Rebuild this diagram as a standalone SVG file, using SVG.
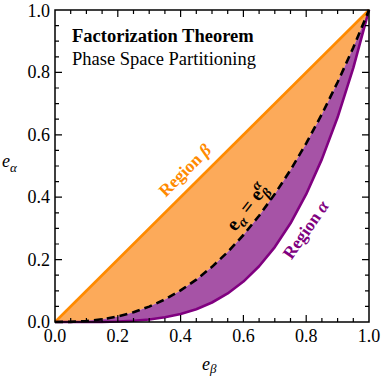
<svg xmlns="http://www.w3.org/2000/svg" width="382" height="379" viewBox="0 0 382 379" font-family="'Liberation Serif', 'Times New Roman', Tinos, 'DejaVu Serif', serif">
<style>
.lbl{font-size:18px;fill:#000}
.ax{font-size:18px;font-style:italic;fill:#000}
.title{font-size:18.5px;fill:#000}
.reg{font-size:17.5px;font-weight:bold}
.tick{stroke:#000;stroke-width:1.2;fill:none}
</style>
<rect width="382" height="379" fill="#fff"/>
<g id="region-beta-fill">
<path d="M55,322 L369,10 L353.3,47.55 L337.6,82.25 L321.9,114.17 L306.2,143.4 L290.5,170.01 L274.8,194.09 L259.1,215.72 L243.4,235 L227.7,252.01 L212,266.84 L196.3,279.62 L180.6,290.43 L164.9,299.39 L149.2,306.62 L133.5,312.25 L117.8,316.42 L102.1,319.28 L86.4,321.01 L70.7,321.83 Z" fill="#FCAA5A"/>
</g>
<g id="region-alpha-fill">
<path d="M55,322 L70.7,321.83 L86.4,321.01 L102.1,319.28 L117.8,316.42 L133.5,312.25 L149.2,306.62 L164.9,299.39 L180.6,290.43 L196.3,279.62 L212,266.84 L227.7,252.01 L243.4,235 L259.1,215.72 L274.8,194.09 L290.5,170.01 L306.2,143.4 L321.9,114.17 L337.6,82.25 L353.3,47.55 L369,10 L353.3,67.87 L337.6,117.3 L321.9,159.13 L306.2,194.2 L290.5,223.28 L274.8,247.09 L259.1,266.3 L243.4,281.56 L227.7,293.45 L212,302.5 L196.3,309.2 L180.6,314.01 L164.9,317.32 L149.2,319.47 L133.5,320.78 L117.8,321.5 L102.1,321.84 L86.4,321.97 Z" fill="#A653A6"/>
</g>
<g id="connectors" fill="none" stroke-linejoin="round">
<path id="diag" d="M55,322 L369,10" stroke="#FF8A00" stroke-width="2.6"/>
<path id="alpha-bound" d="M55,322 L86.4,321.97 L102.1,321.84 L117.8,321.5 L133.5,320.78 L149.2,319.47 L164.9,317.32 L180.6,314.01 L196.3,309.2 L212,302.5 L227.7,293.45 L243.4,281.56 L259.1,266.3 L274.8,247.09 L290.5,223.28 L306.2,194.2 L321.9,159.13 L337.6,117.3 L353.3,67.87 L369,10" stroke="#800080" stroke-width="2.6"/>
<path id="dashed" d="M55,322 L70.7,321.83 L86.4,321.01 L102.1,319.28 L117.8,316.42 L133.5,312.25 L149.2,306.62 L164.9,299.39 L180.6,290.43 L196.3,279.62 L212,266.84 L227.7,252.01 L243.4,235 L259.1,215.72 L274.8,194.09 L290.5,170.01 L306.2,143.4 L321.9,114.17 L337.6,82.25 L353.3,47.55 L369,10" stroke="#000" stroke-width="2.6" stroke-dasharray="8,5"/>
</g>
<g id="frame">
<rect x="55" y="10" width="314" height="312" fill="none" stroke="#000" stroke-width="1.5"/>
<path class="tick" d="M55,259.6h7M55,197.2h7M55,134.8h7M55,72.4h7M369,259.6h-7M369,197.2h-7M369,134.8h-7M369,72.4h-7M117.8,322v-7M180.6,322v-7M243.4,322v-7M306.2,322v-7M117.8,10v7M180.6,10v7M243.4,10v7M306.2,10v7"/>
<path class="tick" d="M55,306.4h4M55,290.8h4M55,275.2h4M55,244h4M55,228.4h4M55,212.8h4M55,181.6h4M55,166h4M55,150.4h4M55,119.2h4M55,103.6h4M55,88h4M55,56.8h4M55,41.2h4M55,25.6h4M369,306.4h-4M369,290.8h-4M369,275.2h-4M369,244h-4M369,228.4h-4M369,212.8h-4M369,181.6h-4M369,166h-4M369,150.4h-4M369,119.2h-4M369,103.6h-4M369,88h-4M369,56.8h-4M369,41.2h-4M369,25.6h-4M70.7,322v-4M86.4,322v-4M102.1,322v-4M133.5,322v-4M149.2,322v-4M164.9,322v-4M196.3,322v-4M212,322v-4M227.7,322v-4M259.1,322v-4M274.8,322v-4M290.5,322v-4M321.9,322v-4M337.6,322v-4M353.3,322v-4M70.7,10v4M86.4,10v4M102.1,10v4M133.5,10v4M149.2,10v4M164.9,10v4M196.3,10v4M212,10v4M227.7,10v4M259.1,10v4M274.8,10v4M290.5,10v4M321.9,10v4M337.6,10v4M353.3,10v4"/>
</g>
<g id="y-ticklabels" class="lbl" text-anchor="end">
<text x="50" y="328">0.0</text>
<text x="50" y="265.6">0.2</text>
<text x="50" y="203.2">0.4</text>
<text x="50" y="140.8">0.6</text>
<text x="50" y="78.4">0.8</text>
<text x="50" y="16.5">1.0</text>
</g>
<g id="x-ticklabels" class="lbl" text-anchor="middle">
<text x="55" y="342">0.0</text>
<text x="117.8" y="342">0.2</text>
<text x="180.6" y="342">0.4</text>
<text x="243.4" y="342">0.6</text>
<text x="306.2" y="342">0.8</text>
<text x="369" y="342">1.0</text>
</g>
<g id="axis-labels">
<text class="ax" x="202" y="370">e<tspan font-size="13" dy="3">β</tspan></text>
<text class="ax" x="2" y="167">e<tspan font-size="13" dy="5">α</tspan></text>
</g>
<g id="title">
<text class="title" x="72" y="41.7" font-weight="bold" font-size="19">Factorization Theorem</text>
<text class="title" x="72" y="65">Phase Space Partitioning</text>
</g>
<g id="label-region-beta">
<text class="reg" fill="#FF8A00" text-anchor="middle" transform="translate(189,174.5) rotate(-44.8)">Region <tspan font-style="italic">β</tspan></text>
</g>
<g id="label-equation">
<text fill="#000" text-anchor="middle" font-size="20" font-weight="bold" transform="translate(252,211) rotate(-52)">e<tspan font-size="14" font-style="italic" dy="4">α</tspan><tspan dy="-4"> = e</tspan><tspan font-size="14" font-style="italic" dy="5">β</tspan><tspan font-size="14" font-style="italic" dx="-8" dy="-13">α</tspan></text>
</g>
<g id="label-region-alpha">
<text class="reg" fill="#800080" text-anchor="middle" transform="translate(310.5,233) rotate(-55)">Region <tspan font-style="italic">α</tspan></text>
</g>
</svg>
